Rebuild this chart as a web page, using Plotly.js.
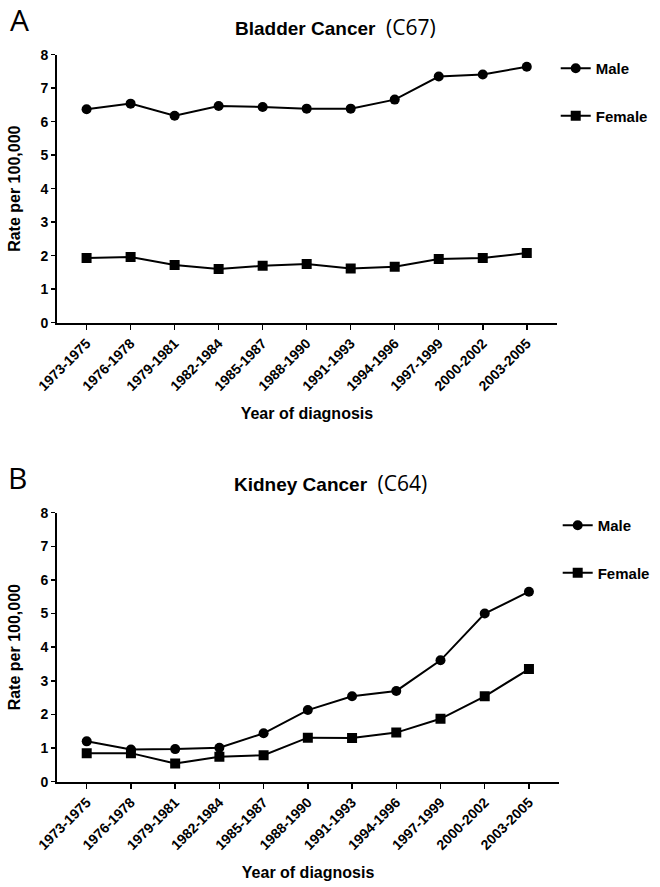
<!DOCTYPE html>
<html>
<head>
<meta charset="utf-8">
<script src="https://cdn.plot.ly/plotly-3.0.1.min.js"></script>
<style>html,body{margin:0;padding:0;background:#fff;}#chart{width:660px;height:887px;}</style>
</head>
<body>
<div id="chart"></div>
<script>
const periods = ["1973-1975","1976-1978","1979-1981","1982-1984","1985-1987","1988-1990","1991-1993","1994-1996","1997-1999","2000-2002","2003-2005"];
const bladderMale   = [6.37,6.54,6.18,6.47,6.44,6.39,6.39,6.66,7.35,7.41,7.64];
const bladderFemale = [1.93,1.96,1.72,1.60,1.70,1.75,1.62,1.67,1.90,1.93,2.08];
const kidneyMale    = [1.20,0.96,0.97,1.01,1.44,2.13,2.54,2.70,3.61,5.00,5.65];
const kidneyFemale  = [0.85,0.85,0.54,0.74,0.79,1.31,1.30,1.46,1.87,2.54,3.35];
const yTicks = [0,1,2,3,4,5,6,7,8];

const FONT = "Liberation Sans, Arial, sans-serif";
function tr(x, y, name, symbol, xa, ya, leg, grp){
  return {x:x, y:y, name:name, type:'scatter', mode:'lines+markers',
    xaxis:xa, yaxis:ya, legend:leg, legendgroup:grp,
    line:{color:'#000', width:2},
    marker:{symbol:symbol, size:10, color:'#000'}};
}
const data = [
  tr(periods, bladderMale, 'Male', 'circle', 'x', 'y', 'legend', 'm'),
  tr(periods, bladderFemale, 'Female', 'square', 'x', 'y', 'legend', 'f'),
  tr(periods, kidneyMale, 'Male', 'circle', 'x2', 'y2', 'legend2', 'm2'),
  tr(periods, kidneyFemale, 'Female', 'square', 'x2', 'y2', 'legend2', 'f2')
];
function xax(domain, anchor){
  return {type:'category', domain:domain, anchor:anchor, range:[-0.67,10.68],
    showline:true, linecolor:'#000', linewidth:2, showgrid:false, zeroline:false,
    ticks:'outside', ticklen:5, tickwidth:1.5, tickcolor:'#000', tickangle:-45,
    tickfont:{family:FONT, size:14, color:'#000', weight:'bold'},
    title:{text:'<b>Year of diagnosis</b>', font:{family:FONT, size:16, color:'#000'}, standoff:15},
    fixedrange:true};
}
function yax(domain, anchor){
  return {domain:domain, anchor:anchor, range:[0,8], tickvals:yTicks,
    showline:true, linecolor:'#000', linewidth:2, showgrid:false, zeroline:false,
    ticks:'outside', ticklen:4, tickwidth:1.5, tickcolor:'#000',
    tickfont:{family:FONT, size:14, color:'#000', weight:'bold'},
    title:{text:'<b>Rate per 100,000</b>', font:{family:FONT, size:16, color:'#000'}, standoff:16},
    fixedrange:true};
}
const legBase = {xanchor:'left', yanchor:'top', bgcolor:'rgba(0,0,0,0)', borderwidth:0,
  font:{family:FONT, size:15, color:'#000', weight:'bold'}, traceorder:'grouped', tracegroupgap:25, itemwidth:30};
const layout = {
  width:660, height:887, paper_bgcolor:'#fff', plot_bgcolor:'#fff',
  margin:{l:0, r:0, t:0, b:0}, showlegend:true,
  xaxis: xax([0.0865,0.8435],'y'),
  yaxis: yax([0.6362,0.9383],'x'),
  xaxis2: xax([0.0865,0.847],'y2'),
  yaxis2: yax([0.1187,0.4220],'x2'),
  legend: Object.assign({}, legBase, {x:0.842, y:1-52/887}),
  legend2: Object.assign({}, legBase, {x:0.845, y:1-509/887}),
  annotations:[
    {text:'A', x:8/660, y:1-20/887, xref:'paper', yref:'paper', xanchor:'left', yanchor:'middle', showarrow:false, font:{family:'Open Sans, sans-serif', size:30, color:'#000'}},
    {text:'B', x:6/660, y:1-477/887, xref:'paper', yref:'paper', xanchor:'left', yanchor:'middle', showarrow:false, font:{family:'Open Sans, sans-serif', size:30, color:'#000'}},
    {text:'<b>Bladder Cancer</b>  <span style="font-family:Open Sans, sans-serif;font-size:21px">(C67)</span>', x:336/660, y:1-27/887, xref:'paper', yref:'paper', xanchor:'center', yanchor:'middle', showarrow:false, font:{family:FONT, size:19, color:'#000'}},
    {text:'<b>Kidney Cancer</b>  <span style="font-family:Open Sans, sans-serif;font-size:21px">(C64)</span>', x:331/660, y:1-483/887, xref:'paper', yref:'paper', xanchor:'center', yanchor:'middle', showarrow:false, font:{family:FONT, size:19, color:'#000'}}
  ]
};
Plotly.newPlot('chart', data, layout, {displayModeBar:false, staticPlot:true});
</script>
</body>
</html>
